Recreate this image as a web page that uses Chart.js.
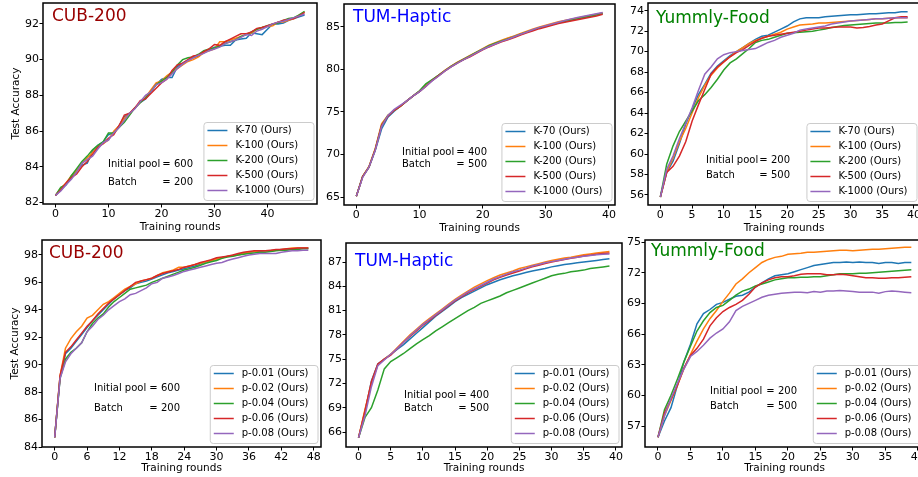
<!DOCTYPE html>
<html><head><meta charset="utf-8">
<script src="https://cdn.jsdelivr.net/npm/chart.js@4.4.0/dist/chart.umd.min.js"></script>
<style>
html,body{margin:0;padding:0;background:#fff;overflow:hidden;width:918px;height:477px;position:relative;}
canvas{position:absolute;}
</style></head><body>
<script>
// ---------- DATA ----------
const COLORS = ['#1f77b4','#ff7f0e','#2ca02c','#d62728','#9467bd'];
const kLabels = ['K-70 (Ours)','K-100 (Ours)','K-200 (Ours)','K-500 (Ours)','K-1000 (Ours)'];
const pLabels = ['p-0.01 (Ours)','p-0.02 (Ours)','p-0.04 (Ours)','p-0.06 (Ours)','p-0.08 (Ours)'];
const datasetNames = ['CUB-200','TUM-Haptic','Yummly-Food','CUB-200','TUM-Haptic','Yummly-Food'];
const initialPools = [600,400,200,600,400,200];
const batches = [200,500,500,200,500,500];

// tick labels
const xTicksCubK = [0,10,20,30,40];
const xTicksTumK = [0,10,20,30,40];
const xTicksYumK = [0,5,10,15,20,25,30,35,40];
const xTicksCubP = [0,6,12,18,24,30,36,42,48];
const xTicksTumP = [0,5,10,15,20,25,30,35,40];
const xTicksYumP = [0,5,10,15,20,25,30,35,40];
const yTicksCubK = [82,84,86,88,90,92];
const yTicksTumK = [65,70,75,80,85];
const yTicksYumK = [56,58,60,62,64,66,68,70,72,74];
const yTicksCubP = [84,86,88,90,92,94,96,98];
const yTicksTumP = [66,69,72,75,78,81,84,87];
const yTicksYumP = [57,60,63,66,69,72,75];

// CUB-200, K series (rounds 0..47)
const cubK70   = [82.4,82.7,83.0,83.4,83.8,84.1,84.2,84.9,85.2,85.4,85.8,85.9,86.3,86.8,87.0,87.3,87.6,87.8,88.2,88.6,88.9,89.0,89.0,89.6,89.8,89.95,90.1,90.2,90.4,90.55,90.7,90.75,90.8,90.8,91.1,91.15,91.2,91.5,91.45,91.4,91.7,92.0,92.0,92.05,92.2,92.3,92.4,92.5];
const cubK100  = [82.4,82.8,83.1,83.5,83.8,84.2,84.5,84.8,85.1,85.3,85.5,86.0,86.3,86.7,87.0,87.3,87.6,87.9,88.3,88.7,88.8,89.1,89.3,89.5,89.7,89.9,90.0,90.15,90.4,90.5,90.6,91.0,91.0,91.1,91.2,91.3,91.4,91.5,91.7,91.8,91.85,91.9,92.1,92.1,92.2,92.3,92.5,92.65];
const cubK200  = [82.4,82.85,83.0,83.5,83.9,84.3,84.6,84.95,85.2,85.4,85.9,85.9,86.2,86.5,86.9,87.3,87.6,87.85,88.2,88.6,88.8,89.0,89.3,89.7,90.0,90.1,90.15,90.3,90.5,90.6,90.65,90.75,90.9,91.0,91.1,91.3,91.4,91.55,91.7,91.8,91.9,92.0,92.05,92.2,92.3,92.35,92.5,92.7];
const cubK500  = [82.4,82.7,83.1,83.4,83.6,84.0,84.3,84.7,85.1,85.3,85.6,85.8,86.3,86.9,87.0,87.3,87.7,87.8,88.1,88.4,88.7,88.9,89.4,89.7,89.8,90.0,90.2,90.25,90.45,90.6,90.85,90.8,91.0,91.15,91.3,91.45,91.45,91.55,91.75,91.8,91.9,92.0,92.1,92.2,92.25,92.3,92.45,92.65];
const cubK1000 = [82.4,82.65,83.0,83.3,83.7,84.2,84.4,84.6,85.0,85.35,85.5,85.9,86.2,86.6,87.0,87.25,87.65,88.0,88.2,88.6,88.7,88.9,89.2,89.5,89.75,89.95,90.1,90.25,90.35,90.5,90.6,90.7,90.9,91.0,91.1,91.25,91.4,91.35,91.6,91.7,91.85,92.0,92.1,92.15,92.25,92.35,92.45,92.55];

// TUM-Haptic, K series (rounds 0..39)
const tumK70   = [65.1,67.4,68.5,70.5,73.0,74.4,75.1,75.7,76.3,76.9,77.4,78.05,78.7,79.3,79.85,80.35,80.8,81.2,81.6,82.0,82.4,82.75,83.05,83.35,83.65,83.9,84.15,84.4,84.65,84.9,85.1,85.3,85.5,85.7,85.85,86.0,86.15,86.3,86.45,86.6];
const tumK100  = [65.1,67.4,68.6,70.7,73.6,74.6,75.2,75.7,76.3,76.9,77.45,78.1,78.75,79.3,79.9,80.4,80.85,81.25,81.65,82.05,82.45,82.85,83.15,83.45,83.7,83.95,84.25,84.5,84.75,85.0,85.2,85.4,85.6,85.75,85.9,86.05,86.2,86.35,86.5,86.65];
const tumK200  = [65.1,67.4,68.5,70.6,73.4,74.6,75.2,75.7,76.3,76.9,77.5,78.3,78.8,79.3,79.85,80.35,80.8,81.2,81.6,82.0,82.4,82.8,83.1,83.35,83.6,83.85,84.15,84.4,84.65,84.9,85.1,85.3,85.5,85.65,85.8,85.95,86.1,86.25,86.4,86.55];
const tumK500  = [65.1,67.4,68.5,70.6,73.4,74.5,75.2,75.7,76.3,76.9,77.4,78.0,78.7,79.25,79.8,80.3,80.75,81.15,81.5,81.9,82.3,82.65,82.95,83.25,83.5,83.75,84.05,84.3,84.55,84.8,85.0,85.2,85.4,85.55,85.7,85.85,86.0,86.15,86.3,86.5];
const tumK1000 = [65.1,67.3,68.5,70.5,73.3,74.6,75.3,75.8,76.3,76.9,77.4,78.0,78.65,79.2,79.8,80.3,80.75,81.15,81.55,81.95,82.35,82.7,83.0,83.3,83.55,83.85,84.15,84.4,84.7,84.95,85.15,85.35,85.55,85.75,85.95,86.1,86.25,86.4,86.55,86.7];

// Yummly-Food, K series (rounds 0..39)
const yumK70   = [55.8,58.2,59.3,61.0,62.9,64.4,65.8,66.8,67.9,68.6,69.1,69.6,70.0,70.4,70.8,71.2,71.5,71.6,71.9,72.2,72.5,72.9,73.2,73.3,73.3,73.3,73.4,73.45,73.5,73.55,73.6,73.6,73.65,73.7,73.7,73.75,73.8,73.8,73.9,73.9];
const yumK100  = [55.8,58.3,59.6,61.2,62.5,64.0,65.5,66.7,67.7,68.4,69.0,69.5,70.0,70.4,70.8,71.1,71.3,71.5,71.7,71.9,72.2,72.4,72.6,72.65,72.7,72.8,72.8,72.85,72.9,72.95,73.0,73.05,73.1,73.15,73.2,73.2,73.25,73.3,73.3,73.3];
const yumK200  = [55.8,59.0,60.8,62.2,63.2,64.2,65.2,65.8,66.5,67.3,68.2,68.9,69.3,69.8,70.3,70.9,71.1,71.2,71.4,71.6,71.8,71.85,71.9,71.95,72.0,72.1,72.2,72.35,72.45,72.55,72.6,72.65,72.7,72.75,72.8,72.8,72.8,72.85,72.85,72.9];
const yumK500  = [55.8,58.2,58.8,59.8,61.2,63.2,64.8,66.3,67.8,68.5,69.0,69.5,69.9,70.2,70.6,71.0,71.3,71.5,71.6,71.7,71.8,71.9,72.0,72.1,72.2,72.3,72.3,72.35,72.4,72.4,72.4,72.3,72.35,72.45,72.6,72.7,73.0,73.3,73.4,73.4];
const yumK1000 = [55.8,58.5,59.8,61.5,63.0,64.5,66.2,67.8,68.5,69.3,69.7,69.9,70.0,70.1,70.2,70.3,70.6,70.9,71.1,71.4,71.6,71.8,72.1,72.2,72.3,72.4,72.5,72.7,72.8,72.9,73.0,73.05,73.1,73.15,73.2,73.2,73.25,73.3,73.3,73.3];

// CUB-200, p series (rounds 0..47)
const cubP01 = [84.7,89.1,90.8,91.2,91.7,92.2,92.7,93.2,93.6,94.0,94.4,94.8,95.1,95.4,95.6,95.9,96.0,96.1,96.25,96.4,96.55,96.7,96.8,96.9,97.0,97.1,97.2,97.35,97.5,97.6,97.7,97.8,97.9,97.95,98.05,98.1,98.2,98.25,98.25,98.3,98.3,98.35,98.4,98.4,98.45,98.45,98.5,98.5];
const cubP02 = [84.7,89.2,91.2,91.9,92.4,92.8,93.4,93.6,94.0,94.4,94.6,94.9,95.2,95.5,95.7,95.9,96.1,96.2,96.3,96.5,96.7,96.8,96.9,97.1,97.1,97.2,97.3,97.4,97.5,97.6,97.7,97.8,97.9,97.95,98.0,98.1,98.2,98.25,98.3,98.3,98.3,98.35,98.4,98.45,98.5,98.5,98.5,98.5];
const cubP04 = [84.7,89.0,90.4,90.9,91.2,91.6,92.4,93.0,93.4,93.7,94.2,94.6,94.9,95.2,95.5,95.6,95.7,95.8,96.0,96.15,96.3,96.45,96.6,96.75,96.9,97.0,97.1,97.25,97.4,97.5,97.6,97.75,97.85,97.9,98.0,98.05,98.1,98.15,98.2,98.2,98.25,98.3,98.35,98.35,98.4,98.4,98.45,98.45];
const cubP06 = [84.7,89.2,90.9,91.3,91.8,92.3,92.8,93.2,93.7,94.1,94.5,94.8,95.1,95.4,95.7,96.0,96.1,96.2,96.3,96.5,96.65,96.75,96.85,96.95,97.1,97.2,97.3,97.45,97.55,97.65,97.8,97.85,97.9,98.0,98.1,98.2,98.25,98.3,98.3,98.3,98.35,98.4,98.4,98.45,98.45,98.5,98.5,98.5];
const cubP08 = [84.7,89.0,90.2,90.8,91.2,91.6,92.4,92.8,93.3,93.6,94.0,94.3,94.6,94.8,95.1,95.2,95.4,95.6,95.9,96.0,96.3,96.4,96.5,96.65,96.8,96.9,97.0,97.1,97.2,97.3,97.4,97.45,97.6,97.7,97.8,97.9,98.0,98.05,98.1,98.1,98.1,98.1,98.2,98.25,98.3,98.3,98.35,98.35];

// TUM-Haptic, p series (rounds 0..39)
const tumP01 = [65.3,68.5,72.3,74.4,75.0,75.6,76.2,76.8,77.5,78.2,78.9,79.6,80.3,80.9,81.5,82.1,82.6,83.0,83.4,83.8,84.2,84.5,84.8,85.05,85.3,85.5,85.7,85.9,86.05,86.2,86.4,86.55,86.7,86.8,86.9,87.0,87.1,87.2,87.3,87.4];
const tumP02 = [65.3,68.8,72.0,74.3,75.0,75.6,76.4,77.2,78.0,78.7,79.4,80.0,80.6,81.2,81.8,82.4,82.9,83.4,83.9,84.3,84.7,85.05,85.4,85.65,85.9,86.2,86.4,86.6,86.8,87.0,87.2,87.35,87.5,87.6,87.75,87.9,88.0,88.1,88.2,88.3];
const tumP04 = [65.3,67.8,69.0,71.2,73.8,74.7,75.2,75.7,76.3,76.9,77.4,77.9,78.5,79.0,79.5,80.0,80.5,81.0,81.4,81.9,82.2,82.5,82.8,83.2,83.5,83.8,84.1,84.4,84.7,85.0,85.3,85.5,85.6,85.8,85.9,86.0,86.2,86.3,86.4,86.5];
const tumP06 = [65.3,68.6,72.2,74.4,75.0,75.5,76.3,77.1,77.8,78.5,79.2,79.8,80.4,81.0,81.6,82.2,82.7,83.2,83.6,84.0,84.4,84.8,85.1,85.4,85.65,85.9,86.15,86.4,86.6,86.8,87.0,87.15,87.3,87.45,87.6,87.75,87.85,87.95,88.05,88.1];
const tumP08 = [65.3,68.0,71.6,74.2,74.9,75.6,76.3,77.1,77.9,78.6,79.3,79.9,80.5,81.1,81.7,82.3,82.8,83.3,83.7,84.1,84.5,84.9,85.2,85.5,85.8,86.0,86.25,86.5,86.7,86.9,87.05,87.2,87.35,87.5,87.6,87.7,87.8,87.9,87.95,88.0];

// Yummly-Food, p series (rounds 0..39)
const yumP01 = [55.9,57.5,58.8,61.0,63.3,65.0,67.0,68.0,68.4,68.9,69.1,69.4,69.7,69.8,70.1,70.6,71.0,71.4,71.7,71.8,71.9,72.1,72.3,72.5,72.7,72.8,72.9,73.0,73.0,73.05,73.0,73.05,73.0,73.0,72.9,73.0,73.0,72.9,73.0,73.0];
const yumP02 = [55.9,58.0,59.5,61.0,62.6,64.0,65.3,66.5,67.5,68.3,69.2,70.0,70.9,71.4,72.0,72.5,73.0,73.3,73.5,73.6,73.8,73.85,73.9,74.0,74.0,74.05,74.1,74.15,74.2,74.2,74.15,74.2,74.25,74.3,74.3,74.35,74.4,74.45,74.5,74.5];
const yumP04 = [55.9,58.6,60.0,61.6,63.3,64.8,66.3,67.3,68.1,68.6,68.8,69.3,69.8,70.2,70.4,70.7,70.9,71.1,71.3,71.4,71.5,71.5,71.55,71.55,71.6,71.6,71.7,71.8,71.9,71.9,71.9,71.95,71.95,72.0,72.05,72.1,72.15,72.2,72.25,72.3];
const yumP06 = [55.9,58.3,59.6,61.0,62.7,63.9,64.6,65.5,66.8,67.6,68.2,68.6,68.9,69.3,69.9,70.6,71.0,71.3,71.5,71.6,71.6,71.7,71.85,71.9,71.9,71.9,71.8,71.8,71.85,71.8,71.7,71.6,71.5,71.5,71.45,71.45,71.5,71.5,71.55,71.6];
const yumP08 = [55.9,58.0,59.7,61.2,62.6,63.8,64.3,64.9,65.6,66.1,66.5,67.2,68.3,68.7,69.0,69.3,69.6,69.8,69.9,70.0,70.05,70.1,70.1,70.05,70.15,70.1,70.2,70.2,70.25,70.2,70.15,70.1,70.1,70.1,70.0,70.15,70.2,70.15,70.1,70.05];

// ---------- LAYOUT ----------
Chart.defaults.font.family = "'DejaVu Sans', sans-serif";
Chart.defaults.color = '#000';
const FONT = "'DejaVu Sans', sans-serif";
const TITLE_COLORS = ['#990000','#0000ff','#008000','#990000','#0000ff','#008000'];

const panels = [
  {plot:[43,3,317,204], xr:[-2.35,49.35], yr:[81.92,93.17], xt:xTicksCubK, yt:yTicksCubK, series:[cubK70,cubK100,cubK200,cubK500,cubK1000], labels:kLabels, yTitle:true, xTitlePad:0.7, title:[52,17], ann:[108,193,164,182]},
  {plot:[344,4,615,205], xr:[-1.95,40.95], yr:[64.06,87.7], xt:xTicksTumK, yt:yTicksTumK, series:[tumK70,tumK100,tumK200,tumK500,tumK1000], labels:kLabels, yTitle:false, xTitlePad:0.7, title:[353,18], ann:[402,487,152,164]},
  {plot:[648,3,920,205], xr:[-1.95,40.95], yr:[55.02,74.75], xt:xTicksYumK, yt:yTicksYumK, series:[yumK70,yumK100,yumK200,yumK500,yumK1000], labels:kLabels, yTitle:false, xTitlePad:0.7, title:[656,19], ann:[706,790,160.7,175.7]},
  {plot:[42,240,321,447], xr:[-2.35,49.35], yr:[84.0,99.09], xt:xTicksCubP, yt:yTicksCubP, series:[cubP01,cubP02,cubP04,cubP06,cubP08], labels:pLabels, yTitle:true, xTitlePad:2.7, title:[49,254], ann:[94,180,388,408.7]},
  {plot:[346,243,622,447], xr:[-1.95,40.95], yr:[64.15,89.35], xt:xTicksTumP, yt:yTicksTumP, series:[tumP01,tumP02,tumP04,tumP06,tumP08], labels:pLabels, yTitle:false, xTitlePad:2.7, title:[355,261.7], ann:[404,489,395.7,408]},
  {plot:[645,240,924,447], xr:[-2.0,40.95], yr:[54.95,75.2], xt:xTicksYumP, yt:yTicksYumP, series:[yumP01,yumP02,yumP04,yumP06,yumP08], labels:pLabels, yTitle:false, xTitlePad:2.7, title:[651,251.7], ann:[710,797,391,406.3]}
];

const LW = 43, PADT = 8, PADR = 10, XH = 30;

function decor(p, idx, offX, offY) {
  return {
    id: 'decor' + idx,
    afterDraw(chart) {
      const ctx = chart.ctx, a = chart.chartArea;
      ctx.save();
      // frame
      ctx.strokeStyle = '#000'; ctx.lineWidth = 1.5;
      ctx.strokeRect(a.left, a.top, a.right - a.left, a.bottom - a.top);
      // dataset title
      ctx.font = '17px ' + FONT; ctx.fillStyle = TITLE_COLORS[idx];
      ctx.textBaseline = 'middle'; ctx.textAlign = 'left';
      ctx.fillText(datasetNames[idx], p.title[0] - offX, p.title[1] - offY);
      // annotation
      ctx.font = '10px ' + FONT; ctx.fillStyle = '#000';
      const [ax, rx, y1, y2] = p.ann;
      ctx.textAlign = 'left';
      ctx.fillText('Initial pool', ax - offX, y1 - offY);
      ctx.fillText('Batch', ax - offX, y2 - offY);
      ctx.textAlign = 'right';
      ctx.fillText('= ' + initialPools[idx], rx - offX, y1 - offY);
      ctx.fillText('= ' + batches[idx], rx - offX, y2 - offY);
      // legend
      ctx.font = '10px ' + FONT;
      let tw = 0;
      p.labels.forEach(l => { tw = Math.max(tw, ctx.measureText(l).width); });
      const bw = tw + 41, bh = 78;
      const br = a.right - 3.5, bb = a.bottom - 4;
      const bl = br - bw, bt = bb - bh;
      ctx.beginPath();
      ctx.roundRect(bl + 0.5, bt + 0.5, bw, bh, 3);
      ctx.fillStyle = 'rgba(255,255,255,0.8)'; ctx.fill();
      ctx.strokeStyle = '#cccccc'; ctx.lineWidth = 1; ctx.stroke();
      ctx.textAlign = 'left'; ctx.textBaseline = 'middle';
      p.labels.forEach((l, i) => {
        const y = bt + 8.5 + 15 * i;
        ctx.strokeStyle = COLORS[i]; ctx.lineWidth = 1.5;
        ctx.beginPath(); ctx.moveTo(bl + 4, y); ctx.lineTo(bl + 24, y); ctx.stroke();
        ctx.fillStyle = '#000';
        ctx.fillText(l, bl + 32, y);
      });
      ctx.restore();
    }
  };
}

panels.forEach((p, idx) => {
  const [L, T, R, B] = p.plot;
  const w = (R - L) + LW + PADR;
  const h = (B - T) + PADT + XH;
  const offX = L - LW, offY = T - PADT;
  const c = document.createElement('canvas');
  c.width = w; c.height = h;
  c.style.left = offX + 'px'; c.style.top = offY + 'px';
  c.style.width = w + 'px'; c.style.height = h + 'px';
  document.body.appendChild(c);
  const xt = p.xt, yt = p.yt;
  new Chart(c, {
    type: 'line',
    data: {
      datasets: p.series.map((s, i) => ({
        label: p.labels[i],
        data: s.map((v, j) => ({x: j, y: v})),
        borderColor: COLORS[i], backgroundColor: COLORS[i],
        borderWidth: 1.5, pointRadius: 0, tension: 0, fill: false,
        order: 5 - i
      }))
    },
    options: {
      responsive: false, animation: false, devicePixelRatio: 1,
      layout: {padding: {left: 0, top: PADT, right: PADR, bottom: 0}},
      plugins: {legend: {display: false}, tooltip: {enabled: false}},
      scales: {
        x: {
          type: 'linear', min: p.xr[0], max: p.xr[1],
          afterFit: s => { s.height = XH; },
          afterBuildTicks: s => { s.ticks = xt.map(v => ({value: v})); },
          ticks: {font: {size: 11}, color: '#000', padding: 0, maxRotation: 0, autoSkip: false, callback: v => String(v)},
          grid: {drawOnChartArea: false, drawTicks: true, tickLength: 3.5, color: '#000', tickColor: '#000', tickWidth: 1},
          border: {display: false},
          title: {display: true, text: 'Training rounds', font: {size: 10.5}, color: '#000', padding: {top: 0, bottom: p.xTitlePad}}
        },
        y: {
          type: 'linear', min: p.yr[0], max: p.yr[1],
          afterFit: s => { s.width = LW; },
          afterBuildTicks: s => { s.ticks = yt.map(v => ({value: v})); },
          ticks: {font: {size: 11}, color: '#000', padding: 0.5, autoSkip: false, callback: v => String(v)},
          grid: {drawOnChartArea: false, drawTicks: true, tickLength: 3.5, color: '#000', tickColor: '#000', tickWidth: 1},
          border: {display: false},
          title: {display: p.yTitle, text: 'Test Accuracy', font: {size: 10.5}, color: '#000', padding: {top: 10, bottom: 0}}
        }
      }
    },
    plugins: [decor(p, idx, offX, offY)]
  });
});
</script>
</body></html>
